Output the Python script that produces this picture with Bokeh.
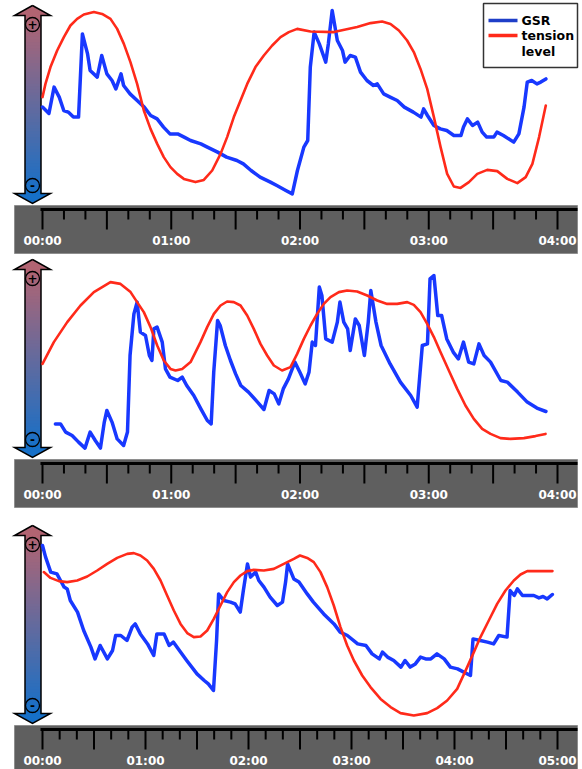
import numpy as np
from bokeh.plotting import figure
from bokeh.models import Range1d
from bokeh.core.properties import value
from bokeh.embed import file_html
from bokeh.resources import INLINE

# ---------------- data ----------------
series_names = ["GSR", "tension", "level"]
tick_labels_4 = ["00:00", "01:00", "02:00", "03:00", "04:00"]
tick_labels_5 = ["00:00", "01:00", "02:00", "03:00", "04:00", "05:00"]

# panel 1 (time in minutes, value 0-100 = bottom-top of plot area)
p1_gsr_t = [0.00, 0.05, 0.09, 0.13, 0.165, 0.20, 0.24, 0.28, 0.31, 0.35, 0.37, 0.425, 0.46, 0.50,
            0.54, 0.57, 0.61, 0.63, 0.68, 0.735, 0.79, 0.84, 0.89, 0.94, 0.99, 1.05, 1.10, 1.15,
            1.23, 1.28, 1.36, 1.43, 1.51, 1.56, 1.62, 1.69, 1.77, 1.82, 1.89, 1.94, 1.98, 2.03,
            2.06, 2.08, 2.11, 2.15, 2.20, 2.22, 2.25, 2.29, 2.33, 2.35, 2.39, 2.43, 2.47, 2.52,
            2.57, 2.60, 2.65, 2.70, 2.755, 2.81, 2.88, 2.94, 2.96, 2.99, 3.04, 3.09, 3.14, 3.195,
            3.25, 3.27, 3.30, 3.34, 3.38, 3.415, 3.45, 3.505, 3.53, 3.58, 3.66, 3.70, 3.74, 3.765,
            3.80, 3.84, 3.87, 3.91]
p1_gsr_v = [49.2, 46.0, 59.2, 54.2, 47.5, 46.7, 44.2, 44.2, 85.8, 75.8, 67.5, 64.2, 75.0, 65.8,
            62.5, 58.3, 65.8, 60.0, 55.8, 52.5, 49.2, 45.0, 43.3, 39.2, 35.8, 35.8, 34.2, 32.5,
            30.8, 29.2, 26.7, 24.2, 22.5, 20.8, 17.5, 14.2, 11.7, 10.0, 7.5, 5.8, 17.5, 29.2,
            32.5, 69.2, 86.7, 80.8, 71.7, 80.8, 97.5, 82.5, 77.5, 71.7, 75.0, 74.2, 66.7, 62.5,
            60.0, 60.8, 55.8, 54.2, 52.5, 49.2, 46.7, 44.2, 48.3, 45.0, 40.0, 38.3, 37.5, 35.0,
            35.0, 39.2, 43.3, 40.0, 41.7, 36.7, 34.2, 34.2, 36.7, 35.0, 31.7, 35.8, 49.2, 61.7,
            62.5, 60.8, 61.7, 63.3]
p1_ten_t = [0.00, 0.023, 0.062, 0.114, 0.166, 0.217, 0.269, 0.321, 0.399, 0.463, 0.528, 0.580,
            0.632, 0.683, 0.735, 0.787, 0.839, 0.891, 0.942, 0.994, 1.046, 1.098, 1.188, 1.253,
            1.318, 1.383, 1.434, 1.486, 1.538, 1.590, 1.654, 1.719, 1.784, 1.849, 1.913, 1.978,
            2.082, 2.263, 2.444, 2.548, 2.638, 2.703, 2.768, 2.832, 2.884, 2.936, 2.988, 3.040,
            3.092, 3.143, 3.195, 3.247, 3.312, 3.377, 3.454, 3.532, 3.610, 3.688, 3.753, 3.805,
            3.857, 3.909]
p1_ten_v = [54.2, 60.8, 69.2, 77.5, 84.2, 90.0, 93.3, 95.5, 96.7, 95.8, 93.3, 88.3,
            80.8, 71.7, 60.8, 47.5, 38.3, 30.8, 24.2, 19.2, 15.8, 13.3, 11.7, 12.8,
            17.5, 25.8, 34.2, 44.2, 52.5, 60.8, 69.2, 75.0, 80.0, 84.2, 86.7, 88.3,
            87.0, 86.7, 89.2, 91.2, 92.0, 90.8, 87.5, 82.5, 76.7, 68.3, 58.3, 44.2,
            29.2, 15.8, 9.5, 8.8, 11.7, 15.8, 17.8, 17.2, 13.3, 11.2, 14.2, 20.8,
            34.2, 50.0]

# panel 2
p2_gsr_t = [0.10, 0.14, 0.18, 0.23, 0.28, 0.33, 0.37, 0.41, 0.45, 0.48, 0.50, 0.54, 0.58, 0.63,
            0.66, 0.68, 0.71, 0.735, 0.76, 0.80, 0.83, 0.85, 0.865, 0.89, 0.93, 0.955, 0.99, 1.05,
            1.085, 1.12, 1.175, 1.23, 1.28, 1.31, 1.33, 1.36, 1.38, 1.42, 1.46, 1.50, 1.54, 1.60,
            1.67, 1.72, 1.76, 1.80, 1.835, 1.87, 1.91, 1.96, 2.00, 2.04, 2.07, 2.095, 2.12, 2.15,
            2.17, 2.20, 2.25, 2.29, 2.31, 2.34, 2.37, 2.39, 2.43, 2.46, 2.50, 2.53, 2.55, 2.59,
            2.63, 2.70, 2.78, 2.86, 2.91, 2.95, 2.99, 3.01, 3.04, 3.07, 3.10, 3.14, 3.19, 3.23,
            3.27, 3.31, 3.35, 3.39, 3.43, 3.48, 3.56, 3.61, 3.69, 3.765, 3.84, 3.91]
p2_gsr_v = [17.8, 17.8, 13.7, 12.0, 8.7, 5.7, 13.7, 9.5, 5.7, 18.7, 24.5, 18.7, 10.3, 7.0,
            13.7, 52.0, 72.8, 78.7, 63.7, 62.0, 52.0, 49.5, 65.3, 66.2, 58.7, 45.3, 41.2, 39.5,
            41.2, 37.0, 32.0, 25.3, 19.5, 17.8, 43.7, 69.5, 67.0, 57.0, 49.5, 42.8, 37.0, 33.7,
            28.7, 25.0, 34.5, 32.8, 27.8, 35.3, 40.3, 48.7, 43.5, 37.8, 43.7, 58.7, 57.0, 86.2,
            82.0, 60.3, 58.7, 68.7, 78.7, 68.7, 65.3, 54.5, 70.3, 67.0, 52.0, 68.7, 84.5, 68.7,
            57.0, 47.8, 38.7, 32.0, 26.2, 57.0, 57.8, 90.3, 92.0, 72.0, 72.0, 60.3, 53.7, 50.3,
            58.7, 48.7, 47.8, 57.8, 52.0, 48.7, 39.5, 38.7, 33.7, 28.7, 25.7, 24.0]
p2_ten_t = [0.00, 0.088, 0.192, 0.295, 0.399, 0.528, 0.606, 0.684, 0.735, 0.787, 0.839, 0.891,
            0.942, 0.994, 1.033, 1.085, 1.150, 1.227, 1.279, 1.331, 1.383, 1.434, 1.486, 1.538,
            1.590, 1.641, 1.693, 1.745, 1.797, 1.861, 1.926, 1.978, 2.030, 2.082, 2.133, 2.185,
            2.237, 2.302, 2.366, 2.444, 2.522, 2.600, 2.677, 2.755, 2.833, 2.884, 2.936, 2.988,
            3.040, 3.091, 3.156, 3.221, 3.285, 3.350, 3.415, 3.480, 3.557, 3.635, 3.739, 3.829,
            3.907]
p2_ten_v = [47.8, 58.7, 68.7, 77.0, 83.7, 88.7, 87.8, 83.7, 78.7, 73.7, 66.2, 57.0,
            49.5, 45.3, 44.5, 45.3, 48.7, 58.7, 66.2, 72.8, 77.0, 79.0, 78.7, 77.0,
            72.0, 65.3, 57.8, 52.0, 47.0, 44.5, 46.2, 52.8, 60.3, 67.0, 72.8, 77.8,
            81.2, 83.7, 84.5, 84.0, 82.0, 79.5, 77.8, 77.8, 78.7, 77.3, 73.7, 67.8,
            61.2, 53.7, 44.5, 35.3, 27.0, 20.3, 15.3, 12.8, 10.7, 10.3, 10.7, 11.7,
            12.8]

# panel 3
p3_gsr_t = [0.00, 0.03, 0.08, 0.14, 0.175, 0.21, 0.24, 0.27, 0.34, 0.40, 0.47, 0.51, 0.56, 0.63,
            0.68, 0.71, 0.76, 0.82, 0.87, 0.90, 0.95, 1.02, 1.08, 1.11, 1.18, 1.23, 1.27, 1.34,
            1.40, 1.50, 1.57, 1.61, 1.66, 1.69, 1.71, 1.76, 1.825, 1.87, 1.92, 1.95, 1.99, 2.02,
            2.07, 2.10, 2.15, 2.21, 2.28, 2.33, 2.36, 2.38, 2.44, 2.49, 2.57, 2.63, 2.73, 2.83,
            2.89, 2.96, 3.06, 3.14, 3.20, 3.27, 3.30, 3.35, 3.41, 3.48, 3.52, 3.57, 3.62, 3.67,
            3.72, 3.77, 3.83, 3.90, 3.96, 4.03, 4.09, 4.155, 4.18, 4.25, 4.32, 4.38, 4.43, 4.51,
            4.54, 4.58, 4.61, 4.66, 4.71, 4.77, 4.82, 4.86, 4.90, 4.95]
p3_gsr_v = [90.0, 84.2, 76.7, 75.8, 72.5, 69.2, 68.3, 62.5, 56.7, 47.5, 39.2, 33.3, 40.0, 33.3,
            37.5, 45.0, 45.0, 42.5, 49.2, 50.8, 45.8, 40.8, 35.0, 45.8, 45.8, 40.0, 41.7, 36.7,
            32.5, 25.8, 22.5, 20.8, 17.5, 42.5, 65.8, 62.5, 61.7, 60.8, 56.7, 67.5, 80.8, 74.2,
            76.7, 72.5, 69.2, 64.2, 60.0, 61.7, 71.7, 80.8, 73.3, 71.7, 65.8, 61.7, 55.8, 50.8,
            46.7, 45.0, 40.8, 40.0, 35.8, 33.3, 36.7, 34.2, 32.5, 29.2, 32.5, 29.2, 30.8, 34.2,
            33.3, 33.3, 35.8, 33.3, 29.2, 28.3, 26.7, 25.0, 43.3, 42.5, 41.7, 40.8, 45.0, 44.2,
            67.5, 65.0, 68.3, 65.0, 65.0, 65.0, 63.8, 64.5, 63.3, 65.5]
p3_ten_t = [0.013, 0.078, 0.159, 0.239, 0.337, 0.434, 0.531, 0.628, 0.725, 0.822, 0.887, 0.951,
            1.016, 1.081, 1.146, 1.210, 1.275, 1.340, 1.405, 1.469, 1.534, 1.599, 1.663, 1.728,
            1.793, 1.858, 1.922, 1.987, 2.052, 2.149, 2.246, 2.343, 2.440, 2.500, 2.570, 2.634,
            2.699, 2.764, 2.828, 2.893, 2.958, 3.023, 3.104, 3.184, 3.282, 3.379, 3.476, 3.605,
            3.735, 3.832, 3.929, 4.026, 4.123, 4.188, 4.252, 4.333, 4.414, 4.495, 4.576, 4.641,
            4.706, 4.835, 4.951]
p3_ten_v = [76.7, 73.8, 72.2, 71.7, 72.5, 74.5, 77.5, 80.8, 83.8, 85.8, 86.2, 85.0,
            82.5, 78.3, 72.5, 65.0, 57.5, 50.8, 46.2, 44.2, 44.5, 47.5, 53.3, 60.0,
            66.7, 71.7, 75.0, 77.2, 77.8, 77.5, 78.3, 80.8, 83.3, 85.0, 83.8, 81.7,
            76.7, 69.2, 60.0, 49.2, 40.0, 32.5, 25.0, 19.2, 13.3, 9.2, 6.2, 5.0,
            6.2, 8.7, 12.5, 18.3, 29.2, 36.7, 44.2, 52.5, 60.8, 67.5, 72.5, 75.5,
            77.2, 77.2, 77.2]

# ---------------- layout / style ----------------
FONT = value("DejaVu Sans")
BLUE = "#1838ff"
RED = "#ff2a1a"
X0 = 42                      # reference x of time zero
XL, XR = 0, 582              # horizontal extent of canvas in reference pixels
YB, YT = 769, 0              # vertical extent (bottom, top)

panels = [
    dict(y0=205, ppm=128.75, mins=4, labels=tick_labels_4,
         gsr=(p1_gsr_t, p1_gsr_v), ten=(p1_ten_t, p1_ten_v)),
    dict(y0=459, ppm=128.75, mins=4, labels=tick_labels_4,
         gsr=(p2_gsr_t, p2_gsr_v), ten=(p2_ten_t, p2_ten_v)),
    dict(y0=725, ppm=103.0, mins=5, labels=tick_labels_5,
         gsr=(p3_gsr_t, p3_gsr_v), ten=(p3_ten_t, p3_ten_v)),
]

p = figure(width=582, height=769, x_range=Range1d(XL, XR), y_range=Range1d(YB, YT),
           x_axis_location=None, y_axis_location=None, min_border=0,
           output_backend="svg", toolbar_location=None,
           background_fill_color="white", border_fill_color="white")
p.outline_line_color = None
p.grid.visible = False

xr, yr = {}, {}
for k, P in enumerate(panels):
    xr[f"t{k}"] = Range1d((XL - X0) / P["ppm"], (XR - X0) / P["ppm"])
    yr[f"v{k}"] = Range1d((P["y0"] - YB) / 2.0, (P["y0"] - YT) / 2.0)
p.extra_x_ranges = xr
p.extra_y_ranges = yr

top_rgb = np.array([178, 100, 114])
bot_rgb = np.array([22, 112, 200])

def hexc(c):
    c = np.clip(np.round(c), 0, 255).astype(int)
    return "#%02x%02x%02x" % tuple(c)

for k, P in enumerate(panels):
    y0 = P["y0"]
    tx, vy = f"t{k}", f"v{k}"
    ya, yb = y0 - 200, y0 - 2

    # ---- gradient arrow ----
    n = 60
    edges = np.linspace(ya + 10, yb - 10, n + 1)
    fr = (np.arange(n) + 0.5) / n
    cols = [hexc(top_rgb + (bot_rgb - top_rgb) * f) for f in fr]
    p.quad(left=24.5, right=40.5, top=edges[:-1], bottom=edges[1:] + 1.5,
           fill_color=cols, line_color=None)
    p.patch(x=[14, 50, 32], y=[ya + 10.5, ya + 10.5, ya], fill_color=hexc(top_rgb), line_color=None)
    p.patch(x=[14, 50, 32], y=[yb - 10.5, yb - 10.5, yb], fill_color=hexc(bot_rgb), line_color=None)
    ax = [32, 50, 40.5, 40.5, 50, 32, 14, 24.5, 24.5, 14, 32]
    ay = [ya, ya + 10, ya + 10, yb - 10, yb - 10, yb, yb - 10, yb - 10, ya + 10, ya + 10, ya]
    p.line(x=ax, y=ay, line_color="black", line_width=1.5, line_join="miter")
    p.circle(x=[32, 32], y=[ya + 19, yb - 18], radius=7, fill_color=None,
             line_color="black", line_width=1.3)
    p.text(x=[32, 32], y=[ya + 19, yb - 18], text=["+", "-"], text_align="center",
           text_baseline="middle", text_font=FONT, text_font_style="bold",
           text_font_size="12px", text_color="black")

    # ---- timeline band ----
    p.quad(left=14, right=577, top=y0, bottom=y0 + 48, fill_color="#5f5f5f",
           line_color="#8e8e8e", line_width=1)
    p.segment(x0=[40], x1=[577], y0=[y0 + 4], y1=[y0 + 4], line_color="black", line_width=3)
    ticks = np.arange(0, P["mins"] * 6 + 1) / 6.0
    is_long = (np.arange(len(ticks)) % 3) == 0
    p.segment(x0=ticks, x1=ticks, y0=[y0 + 4] * len(ticks),
              y1=np.where(is_long, y0 + 24, y0 + 14), x_range_name=tx,
              line_color="black", line_width=2)
    p.text(x=list(range(P["mins"] + 1)), y=[y0 + 35] * (P["mins"] + 1), text=P["labels"],
           x_range_name=tx, text_align="center", text_baseline="middle", text_font=FONT,
           text_font_style="bold", text_font_size="12px", text_color="white")

    # ---- data ----
    gt, gv = P["gsr"]
    tt, tv = P["ten"]
    p.line(gt, gv, x_range_name=tx, y_range_name=vy, line_color=BLUE, line_width=3.5,
           line_join="round", line_cap="round")
    p.line(tt, tv, x_range_name=tx, y_range_name=vy, line_color=RED, line_width=2.6,
           line_join="round", line_cap="round")

# ---- legend (panel 1) ----
p.quad(left=483, right=577, top=3, bottom=67, fill_color="white", line_color="#333333",
       line_width=1.5)
p.segment(x0=[488, 488], x1=[517, 517], y0=[20, 35], y1=[20, 35],
          line_color=["#1e3ec8", RED], line_width=3.5)
p.text(x=[521, 521, 521], y=[20, 35, 51], text=series_names, text_align="left",
       text_baseline="middle", text_font=FONT, text_font_style="bold",
       text_font_size="12.5px", text_color="black")

open("out.html", "w").write(file_html(p, INLINE))
